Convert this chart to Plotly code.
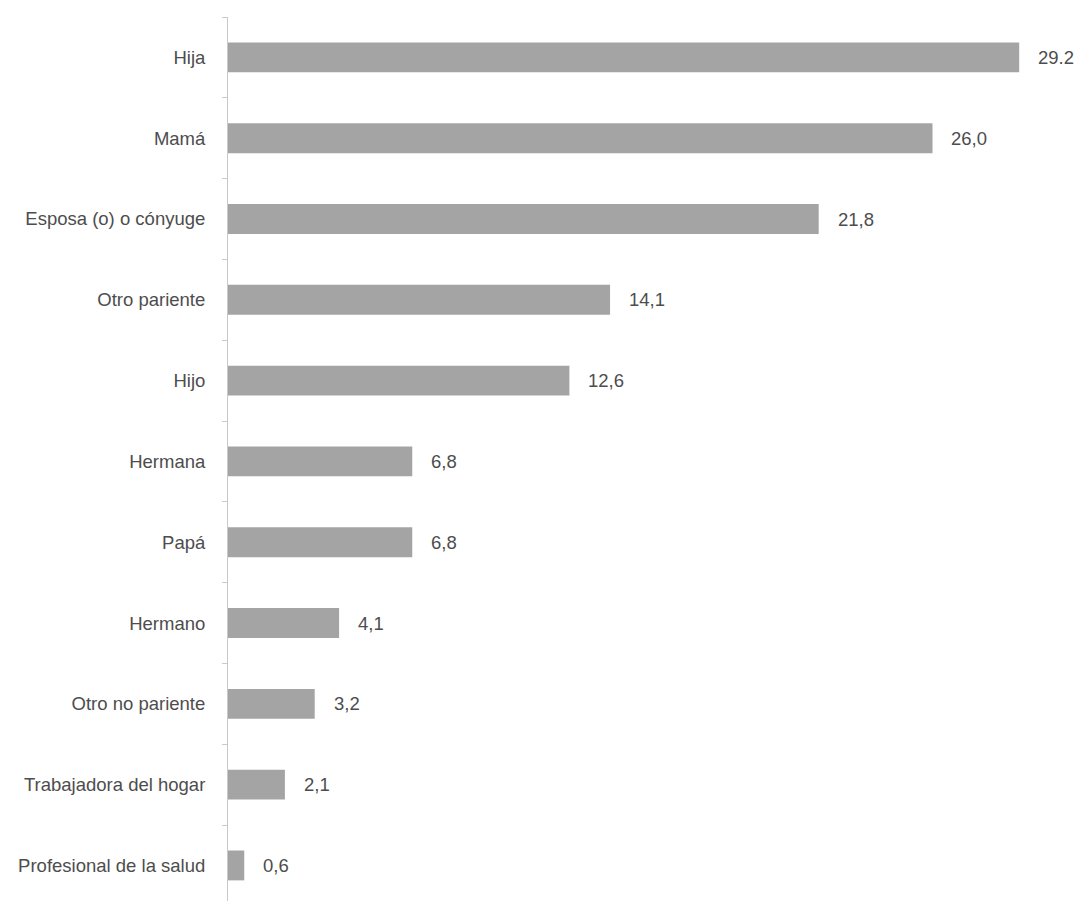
import plotly.graph_objects as go

# Parentesco de la persona cuidadora (%)
categories = [
    "Hija", "Mamá", "Esposa (o) o cónyuge", "Otro pariente", "Hijo",
    "Hermana", "Papá", "Hermano", "Otro no pariente",
    "Trabajadora del hogar", "Profesional de la salud",
]
values = [29.2, 26.0, 21.8, 14.1, 12.6, 6.8, 6.8, 4.1, 3.2, 2.1, 0.6]
value_labels = ["29.2", "26,0", "21,8", "14,1", "12,6", "6,8", "6,8",
                "4,1", "3,2", "2,1", "0,6"]

FONT = "Liberation Sans Narrow, Arial Narrow, Liberation Sans, Arial, sans-serif"
TEXT_COLOR = "#4d4d4d"
BAR_COLOR = "#a4a4a4"
AXIS_COLOR = "#c9c9c9"
FONT_SIZE = 18.5

fig = go.Figure(
    go.Bar(
        x=values,
        y=categories,
        orientation="h",
        width=0.37,
        marker=dict(color=BAR_COLOR, line=dict(width=0)),
        hoverinfo="skip",
    )
)

# value labels placed just to the right of each bar
for cat, val, lab in zip(categories, values, value_labels):
    fig.add_annotation(
        x=val, y=cat, text=lab, showarrow=False,
        xanchor="left", yanchor="middle", xshift=17,
        font=dict(family=FONT, size=FONT_SIZE, color=TEXT_COLOR),
    )

fig.update_layout(
    width=1078, height=901,
    margin=dict(l=228, r=0, t=17, b=0, pad=0),
    paper_bgcolor="white", plot_bgcolor="white",
    showlegend=False,
    xaxis=dict(
        range=[0, 31.37], visible=False, fixedrange=True,
    ),
    yaxis=dict(
        type="category",
        categoryorder="array", categoryarray=categories,
        range=[10.44, -0.5],
        automargin=False,
        showline=True, linecolor=AXIS_COLOR, linewidth=1,
        ticks="outside", tickson="boundaries", ticklen=5,
        tickcolor=AXIS_COLOR, tickwidth=1,
        ticklabelstandoff=18,
        showgrid=False, zeroline=False,
        tickfont=dict(family=FONT, size=FONT_SIZE, color=TEXT_COLOR),
        fixedrange=True,
    ),
)

fig.write_html("out.html")
